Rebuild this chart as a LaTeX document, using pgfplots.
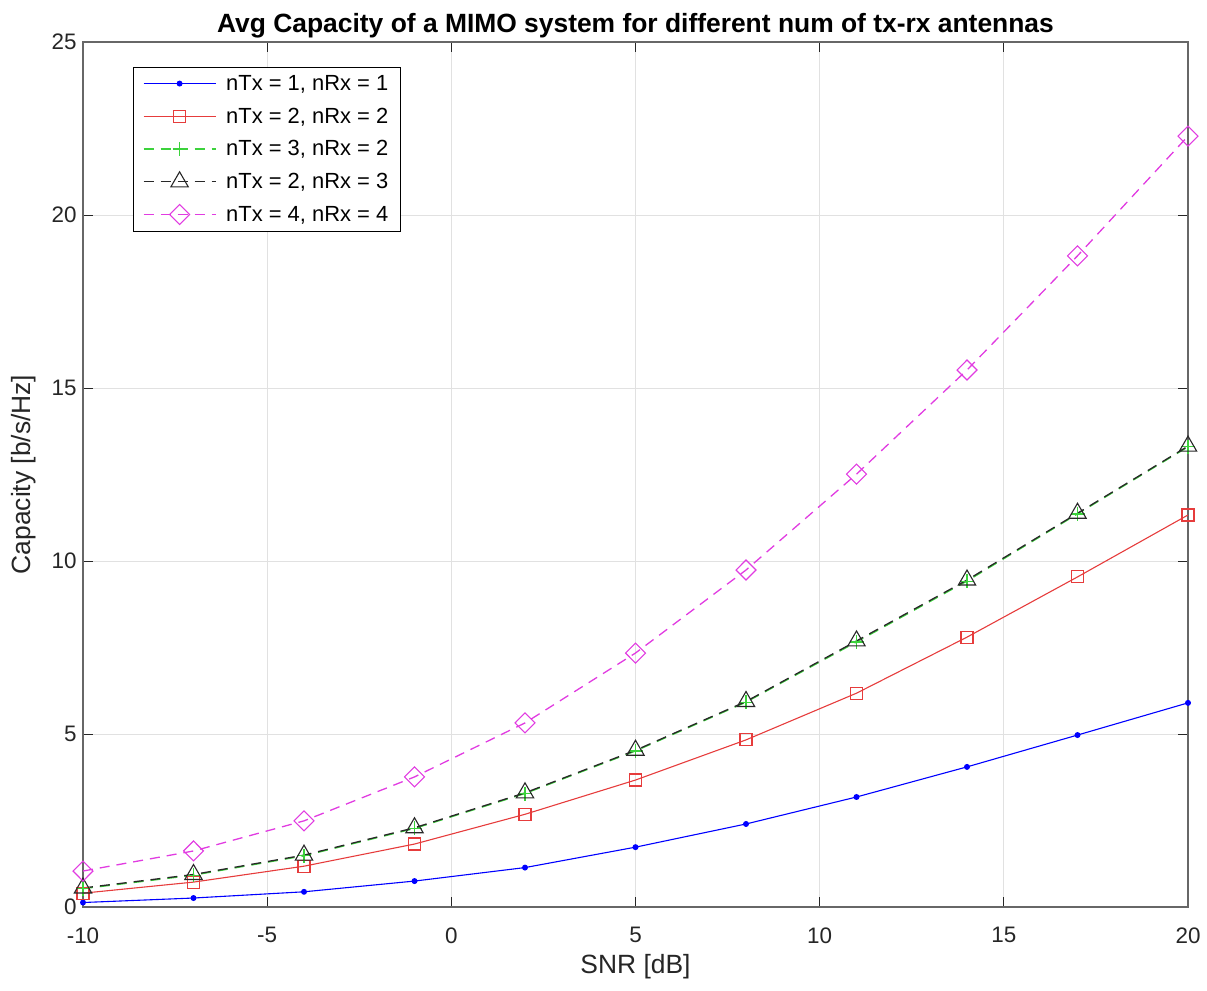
\documentclass[border=0pt]{standalone}
\usepackage{fontspec}
\setmainfont{Liberation Sans}
\usepackage{pgfplots}
\pgfplotsset{compat=1.18}

\definecolor{axgray}{RGB}{38,38,38}
\definecolor{gridgray}{RGB}{225,225,225}
\definecolor{c11}{RGB}{0,0,255}
\definecolor{c22}{RGB}{230,60,60}
\definecolor{c32}{RGB}{60,210,60}
\definecolor{c23}{RGB}{40,40,40}
\definecolor{c44}{RGB}{225,60,225}

\begin{document}
\begin{tikzpicture}
\begin{axis}[
  scale only axis,
  width=1105bp, height=865bp,
  xmin=-10, xmax=20, ymin=0, ymax=25,
  xtick={-10,-5,...,20}, ytick={0,5,...,25},
  grid=major,
  major grid style={gridgray, line width=0.8bp},
  axis line style={axgray!70, line width=1.2bp},
  tick style={axgray, line width=0.8bp},
  major tick length=10bp,
  tick align=inside,
  xtick pos=both, ytick pos=both,
  /pgf/number format/assume math mode=true,
  ticklabel style={font=\fontsize{22.5}{26}\selectfont, text=axgray},
  xticklabel style={yshift=-17bp},
  yticklabel style={xshift=-3bp},
  xlabel={SNR [dB]},
  ylabel={Capacity [b/s/Hz]},
  label style={font=\fontsize{26.5}{30}\selectfont, text=axgray},
  xlabel style={yshift=-4bp},
  ylabel style={yshift=9bp},
  title={\textbf{Avg Capacity of a MIMO system for different num of tx-rx antennas}},
  title style={font=\fontsize{26.5}{30}\selectfont, yshift=-6bp},
  legend cell align=left,
  legend style={at={(0.045,0.971)}, anchor=north west,
    font=\fontsize{22}{26}\selectfont,
    inner xsep=10bp, inner ysep=6bp, row sep=12bp, column sep=8bp},
  legend image code/.code={
    \draw[mark repeat=2,mark phase=2,#1,draw=.]
      plot coordinates {(0bp,0bp) (36bp,0bp) (72bp,0bp)};},
]

% 1x1
\addplot[color=c11, line width=1.1bp, mark=*, mark size=2.4bp,
  legend image post style={draw=c11}] coordinates {
(-10,0.13) (-7,0.26) (-4,0.44) (-1,0.75) (2,1.14) (5,1.73) (8,2.40) (11,3.18) (14,4.05) (17,4.97) (20,5.90)};
\addlegendentry{nTx = 1, nRx = 1}

% 2x2
\addplot[color=c22, line width=1.1bp, mark=square, mark size=6bp, mark options={line width=1.1bp}] coordinates {
(-10,0.40) (-7,0.72) (-4,1.18) (-1,1.82) (2,2.68) (5,3.67) (8,4.83) (11,6.18) (14,7.80) (17,9.54) (20,11.33)};
\addlegendentry{nTx = 2, nRx = 2}

% 3x2
\addplot[color=c32, line width=1.3bp, dash pattern=on 10bp off 7bp, mark=+, mark size=7bp, mark options={solid, line width=1.1bp}] coordinates {
(-10,0.53) (-7,0.92) (-4,1.48) (-1,2.27) (2,3.28) (5,4.51) (8,5.92) (11,7.66) (14,9.42) (17,11.36) (20,13.30)};
\addlegendentry{nTx = 3, nRx = 2}

% 2x3
\addplot[color=c23, line width=1.3bp, dash pattern=on 10bp off 7bp, mark=triangle, mark size=10bp, mark options={solid, line width=1.1bp}] coordinates {
(-10,0.55) (-7,0.94) (-4,1.50) (-1,2.29) (2,3.30) (5,4.53) (8,5.94) (11,7.69) (14,9.45) (17,11.38) (20,13.32)};
\addlegendentry{nTx = 2, nRx = 3}

% 4x4
\addplot[color=c44, line width=1.3bp, dash pattern=on 10bp off 7bp, mark=diamond, mark size=10bp, mark options={solid, line width=1.1bp, xscale=1.33}] coordinates {
(-10,1.04) (-7,1.62) (-4,2.49) (-1,3.76) (2,5.32) (5,7.34) (8,9.74) (11,12.51) (14,15.52) (17,18.82) (20,22.28)};
\addlegendentry{nTx = 4, nRx = 4}

\end{axis}
\pgfresetboundingbox
\path (current axis.south west) ++(-83bp,-83bp) coordinate (bbsw);
\path (current axis.north east) ++(19bp,42bp) coordinate (bbne);
\path[use as bounding box] (bbsw) rectangle (bbne);
\end{tikzpicture}
\end{document}
